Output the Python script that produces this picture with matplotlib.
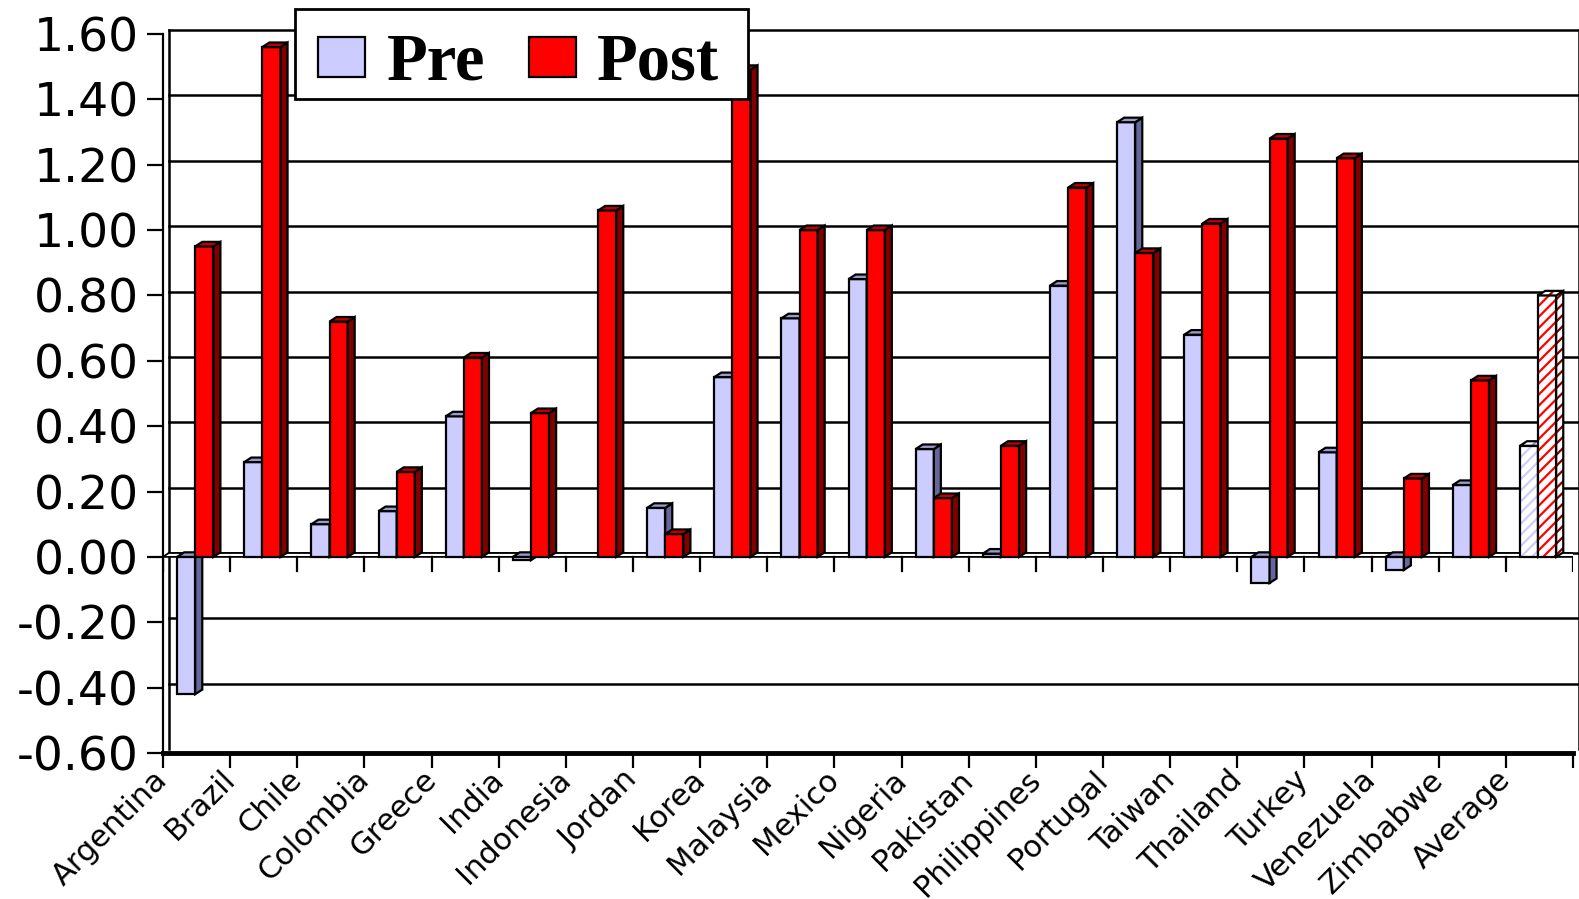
import numpy as np
import matplotlib
matplotlib.use("Agg")
import matplotlib.pyplot as plt
from matplotlib.patches import Polygon, Rectangle

# values per country, before / after
countries = ["Argentina", "Brazil", "Chile", "Colombia", "Greece", "India",
             "Indonesia", "Jordan", "Korea", "Malaysia", "Mexico", "Nigeria",
             "Pakistan", "Philippines", "Portugal", "Taiwan", "Thailand",
             "Turkey", "Venezuela", "Zimbabwe", "Average"]
pre = [-0.42, 0.29, 0.10, 0.14, 0.43, -0.01, None, 0.15, 0.55, 0.73, 0.85,
       0.33, 0.01, 0.83, 1.33, 0.68, -0.08, 0.32, -0.04, 0.22, 0.34]
post = [0.95, 1.56, 0.72, 0.26, 0.61, 0.44, 1.06, 0.07, 1.49, 1.00, 1.00,
        0.18, 0.34, 1.13, 0.93, 1.02, 1.28, 1.22, 0.24, 0.54, 0.80]
yticks = np.round(np.arange(-0.6, 1.61, 0.2), 2)
series_names = ["Pre", "Post"]

plt.rcParams["hatch.linewidth"] = 1.6

PRE_C = ("#CCCCFF", "#66669A", "#9A9ACC")
POST_C = ("#FF0000", "#800000", "#C00000")
BAR_W = 0.27
BDX, BDY = 0.105, 0.014   # bar depth
WDX, WDY = 0.085, 0.012   # wall depth

W, H = 1579, 899
fig = plt.figure(figsize=(W / 100, H / 100), dpi=100)
ax = fig.add_axes([163 / W, (H - 753) / H, 1410 / W, 719 / H])
ax.set_xlim(-0.5, 20.5)
ax.set_ylim(-0.6, 1.6)

# back wall grid
for v in yticks[1:]:
    ax.plot([-0.5 + WDX, 20.5 + WDX], [v + WDY, v + WDY], color="black",
            lw=1.8, clip_on=False, zorder=1)
for xw in (-0.5 + WDX, 20.5 + WDX):
    ax.plot([xw, xw], [-0.6 + WDY, 1.6 + WDY], color="black", lw=1.8,
            clip_on=False, zorder=1)

# floor at zero
ax.add_patch(Polygon([(-0.5, 0), (20.5, 0), (20.5 + WDX, WDY), (-0.5 + WDX, WDY)],
                     facecolor="white", edgecolor="black", lw=1.3, zorder=2))
for k in range(22):
    ax.plot([k - 0.5, k - 0.5], [0, -0.042], color="black", lw=1.6, zorder=2)


def bar3d(x0, v, colors, hatch=None, z=3):
    lo, hi = min(0, v), max(0, v)
    w = BAR_W
    faces = [
        [(x0, lo), (x0 + w, lo), (x0 + w, hi), (x0, hi)],
        [(x0 + w, lo), (x0 + w + BDX, lo + BDY), (x0 + w + BDX, hi + BDY), (x0 + w, hi)],
        [(x0, hi), (x0 + BDX, hi + BDY), (x0 + w + BDX, hi + BDY), (x0 + w, hi)],
    ]
    for pts, c in zip(faces, colors):
        if hatch:
            ax.add_patch(Polygon(pts, facecolor="white", edgecolor=c, hatch=hatch,
                                 lw=0, zorder=z))
            ax.add_patch(Polygon(pts, facecolor="none", edgecolor="black",
                                 lw=1.6, zorder=z))
        else:
            ax.add_patch(Polygon(pts, facecolor=c, edgecolor="black", lw=1.6,
                                 zorder=z, joinstyle="miter"))


for i in range(len(countries)):
    hatch = "///" if countries[i] == "Average" else None
    if pre[i] is not None:
        bar3d(i - 0.29, pre[i], PRE_C, hatch)
    bar3d(i - 0.02, post[i], POST_C, hatch)

# axes lines and ticks
for s in ("top", "right"):
    ax.spines[s].set_visible(False)
ax.spines["left"].set_linewidth(1.6)
ax.spines["bottom"].set_linewidth(3.5)
ax.spines["bottom"].set_zorder(5)

ax.set_yticks(yticks)
ax.set_yticklabels([f"{t:.2f}" for t in yticks])
ax.tick_params(axis="y", length=11.5, width=1.6, pad=6, labelsize=34)

ax.set_xticks(np.arange(-0.5, 21))
ax.set_xticklabels(countries + [""])
ax.tick_params(axis="x", length=11, width=1.6, pad=5, labelsize=22)
plt.setp(ax.get_xticklabels(), rotation=45, ha="right", va="center",
         rotation_mode="anchor")


# legend box, laid out in pixels from the top-left corner
def fx(px):
    return px / W


def fy(py):
    return 1 - py / H


fig.add_artist(Rectangle((fx(295), fy(99)), fx(453), 90 / H, transform=fig.transFigure,
                         facecolor="white", edgecolor="black", lw=2, zorder=10))
for name, color, px, tx in zip(series_names, (PRE_C[0], POST_C[0]), (318, 529), (387, 597)):
    fig.add_artist(Rectangle((fx(px), fy(77)), fx(47), 40 / H, transform=fig.transFigure,
                             facecolor=color, edgecolor="black", lw=1.6, zorder=11))
    fig.text(fx(tx), fy(79), name, family="Liberation Serif", weight="bold",
             fontsize=48, ha="left", va="baseline", zorder=11)

fig.savefig("out.png", dpi=100, facecolor="white")
